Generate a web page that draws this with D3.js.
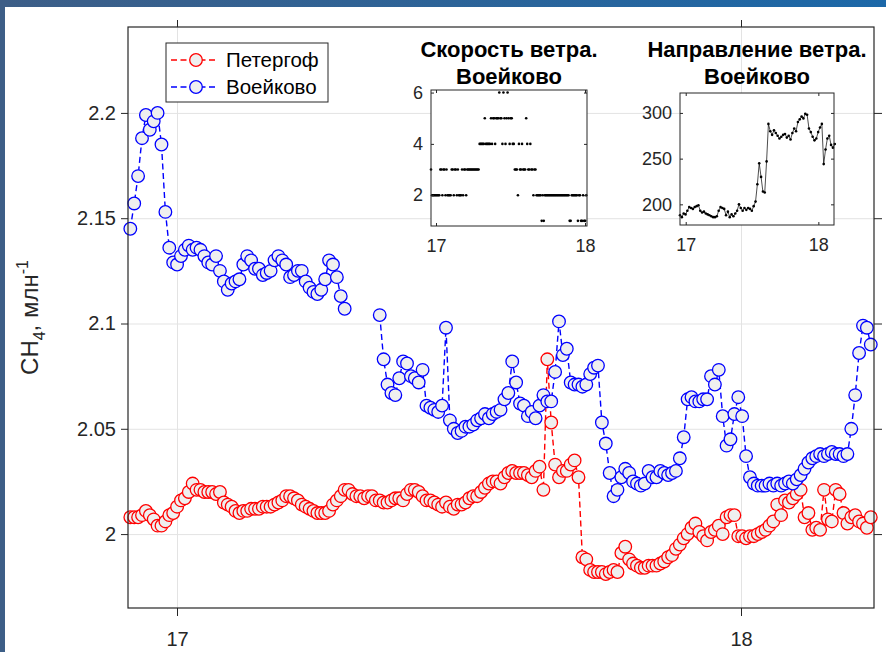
<!DOCTYPE html>
<html>
<head>
<meta charset="utf-8">
<script src="https://cdn.jsdelivr.net/npm/d3@7"></script>
<style>
    body { margin: 0; background: #fff; }
    svg { display: block; font-family: "Liberation Sans", Arial, Helvetica, sans-serif; }
</style>
</head>
<body>
<div id="chart"></div>
<script>

// ---- DATA ----

const seriesNames = ["Петергоф", "Воейково"];
const seriesColors = ["#ff0000", "#0000ff"];

// CH4, 10-minute values starting at 16.9172 (day of month)
const mainStart = 16.9172;
const mainStep = 0.00691;

const peterhof = [
    2.008,2.008,2.008,2.009,2.011,2.009,2.007,2.004,2.004,2.006,
    2.009,2.010,2.013,2.016,2.017,2.020,2.024,2.021,2.021,2.020,
    2.020,2.020,2.019,2.020,2.015,2.014,2.013,2.011,2.010,2.011,
    2.011,2.012,2.012,2.012,2.013,2.013,2.013,2.014,2.015,2.016,
    2.018,2.018,2.017,2.016,2.014,2.013,2.012,2.011,2.010,2.010,
    2.010,2.011,2.014,2.016,2.018,2.021,2.021,2.019,2.018,2.018,
    2.017,2.018,2.018,2.016,2.016,2.015,2.015,2.016,2.017,2.017,
    2.016,2.019,2.021,2.021,2.020,2.018,2.016,2.016,2.015,2.014,
    2.013,2.015,2.013,2.012,2.014,2.014,2.015,2.017,2.018,2.018,
    2.020,2.022,2.024,2.025,2.025,2.024,2.027,2.029,2.030,2.029,
    2.029,2.029,2.028,2.027,2.030,2.032,2.021,2.083,2.053,2.033,
    2.027,2.030,2.030,2.033,2.035,2.027,1.989,1.988,1.983,1.982,
    1.982,1.982,1.981,1.982,1.983,1.982,1.991,1.994,1.988,1.986,
    1.985,1.984,1.984,1.985,1.985,1.985,1.986,1.987,1.989,1.990,
    1.993,1.995,1.998,2.000,2.003,2.005,2.001,1.999,1.997,2.001,
    2.002,2.004,2.000,2.008,2.009,2.009,1.999,1.999,1.998,1.999,
    1.999,2.000,2.001,2.002,2.004,2.006,2.014,2.009,2.016,2.015,
    2.017,2.019,2.021,2.008,2.010,2.002,2.003,2.002,2.021,2.007,
    2.006,2.021,2.019,2.010,2.005,2.008,2.009,2.006,2.005,2.003,
    2.008
];

const voeikovo = [
    2.145,2.157,2.170,2.188,2.199,2.192,2.196,2.200,2.185,2.153,
    2.136,2.129,2.128,2.132,2.135,2.137,2.135,2.136,2.135,2.132,
    2.129,2.128,2.132,2.125,2.120,2.116,2.119,2.120,2.121,2.128,
    2.132,2.130,2.126,2.126,2.123,2.124,2.125,2.130,2.132,2.130,
    2.128,2.122,2.123,2.125,2.125,2.120,2.117,2.115,2.114,2.116,
    2.121,2.130,2.128,2.122,2.113,2.107,null,null,null,null,
    null,null,null,null,2.104,2.083,2.071,2.067,2.066,2.074,
    2.082,2.081,2.075,2.074,2.072,2.078,2.061,2.060,2.059,2.058,
    2.061,2.098,2.054,2.050,2.048,2.049,2.051,2.051,2.052,2.054,
    2.055,2.057,2.055,2.057,2.058,2.059,2.064,2.067,2.082,2.072,
    2.062,2.061,2.056,2.058,2.055,2.061,2.066,2.063,2.063,2.077,
    2.101,2.085,2.088,2.072,2.071,2.071,2.070,2.071,2.076,2.079,
    2.080,2.053,2.043,2.029,2.018,2.021,2.027,2.031,2.029,2.025,
    2.024,2.023,2.024,2.030,2.027,2.027,2.030,2.029,2.028,2.029,
    2.030,2.036,2.046,2.064,2.065,2.063,2.063,2.064,2.064,2.075,
    2.071,2.078,2.056,2.042,2.045,2.057,2.065,2.056,2.037,2.027,
    2.024,2.023,2.023,2.023,2.024,2.023,2.024,2.023,2.024,2.025,
    2.024,2.026,2.028,2.031,2.034,2.036,2.037,2.038,2.037,2.038,
    2.039,2.038,2.038,2.037,2.038,2.050,2.066,2.086,2.099,2.098,
    2.090
];

const yTicks = [2, 2.05, 2.1, 2.15, 2.2];
const xTicks = [17, 18];

// wind speed at Voeikovo, m/s, 10-minute values
const speedTitle = ["Скорость ветра.", "Воейково"];
const speedStart = 16.9664;
const speedStep = 1 / 144;
const windSpeed = [
    3,
    2,2,2,2,2,2,2,2,
    3,3,2,3,3,2,3,
    2,2,2,2,3,
    3,2,3,3,2,3,2,
    2,2,3,2,
    3,3,2,
    3,3,3,3,3,3,3,3,3,3,3,3,
    4,4,4,4,4,5,4,4,4,4,4,
    5,4,5,5,4,5,5,
    5,6,5,5,4,6,5,4,5,6,5,4,5,5,4,4,
    3,3,3,2,4,3,3,4,3,3,3,5,4,3,3,4,3,3,2,3,3,2,
    2,2,2,2,
    1,2,1,2,
    2,2,2,2,2,2,2,2,2,2,2,2,2,2,2,2,2,2,2,2,2,2,2,
    1,1,2,
    2,2,2,2,2,
    1,2,2,1,1,2,1,1,2
];
const speedTicks = [2, 4, 6];

// wind direction at Voeikovo, degrees, 20-minute values
const dirTitle = ["Направление ветра.", "Воейково"];
const dirStart = 16.957;
const dirStep = 1 / 72;
const windDir = [
    188,186,190,189,193,197,196,195,197,198,
    199,193,191,192,190,189,188,187,186,186,
    187,193,197,196,195,188,192,186,189,187,
    190,193,200,196,193,196,194,196,195,193,
    198,203,222,245,230,214,213,247,288,280,
    276,281,278,275,272,274,276,277,273,275,
    271,278,283,280,290,293,296,294,299,298,
    283,279,274,270,272,279,284,288,244,260,
    272,275,265,262,266
];
const dirTicks = [200, 250, 300];

// ---- CHART ----

class CH4Vis {

    constructor(parentElement) {
        this.parentElement = parentElement;
        this.initVis();
    }

    initVis() {
        let vis = this;

        vis.svgWidth = 886;
        vis.svgHeight = 652;

        // Main axes box
        vis.margin = {top: 27, right: 12, bottom: 44, left: 128};
        vis.width = vis.svgWidth - vis.margin.left - vis.margin.right;
        vis.height = vis.svgHeight - vis.margin.top - vis.margin.bottom;

        vis.svg = d3.select("#" + vis.parentElement)
            .append("svg")
            .attr("width", vis.svgWidth)
            .attr("height", vis.svgHeight);

        vis.drawFrame();
        vis.initMainVis();
        vis.initLegend();

        vis.initInset({
            box: {x: 431, y: 90, w: 156, h: 136},
            xDomain: [speedStart, 18.0134],
            yDomain: [0.8, 6.1],
            yTicks: speedTicks,
            title: speedTitle,
            values: windSpeed,
            start: speedStart,
            step: speedStep,
            withLine: false
        });

        vis.initInset({
            box: {x: 680, y: 93, w: 154, h: 132},
            xDomain: [dirStart, 18.118],
            yDomain: [177.4, 321.8],
            yTicks: dirTicks,
            title: dirTitle,
            values: windDir,
            start: dirStart,
            step: dirStep,
            withLine: true
        });
    }

    drawFrame() {
        let vis = this;

        // blue slide border on top and left
        let grad = vis.svg.append("defs").append("linearGradient")
            .attr("id", "topGrad")
            .attr("x1", "0%").attr("x2", "100%");
        grad.append("stop").attr("offset", "0%").attr("stop-color", "#3d5e87");
        grad.append("stop").attr("offset", "100%").attr("stop-color", "#1c68a8");

        vis.svg.append("rect")
            .attr("x", 0).attr("y", 0)
            .attr("width", vis.svgWidth).attr("height", 7)
            .attr("fill", "url(#topGrad)");

        vis.svg.append("rect")
            .attr("x", 0).attr("y", 0)
            .attr("width", 5).attr("height", vis.svgHeight)
            .attr("fill", "#3d5e87");
    }

    initMainVis() {
        let vis = this;

        vis.x = d3.scaleLinear()
            .domain([16.9131, 18.2358])
            .range([0, vis.width]);

        vis.y = d3.scaleLinear()
            .domain([1.9649, 2.2408])
            .range([vis.height, 0]);

        vis.main = vis.svg.append("g")
            .attr("transform", "translate(" + vis.margin.left + "," + vis.margin.top + ")");

        // grid
        vis.main.append("g")
            .attr("class", "grid")
            .call(d3.axisLeft(vis.y).tickValues(yTicks).tickSize(-vis.width).tickFormat(""))
            .call(g => g.select(".domain").remove())
            .selectAll("line").attr("stroke", "#e3e3e3").attr("stroke-width", 1);

        vis.main.append("g")
            .attr("class", "grid")
            .attr("transform", "translate(0," + vis.height + ")")
            .call(d3.axisBottom(vis.x).tickValues(xTicks).tickSize(-vis.height).tickFormat(""))
            .call(g => g.select(".domain").remove())
            .selectAll("line").attr("stroke", "#e3e3e3").attr("stroke-width", 1);

        // series
        let tOf = i => mainStart + i * mainStep;
        let allSeries = [peterhof, voeikovo];

        allSeries.forEach(function(values, s) {
            let points = values.map((v, i) => ({t: tOf(i), v: v}));

            let line = d3.line()
                .defined(d => d.v !== null)
                .x(d => vis.x(d.t))
                .y(d => vis.y(d.v));

            vis.main.append("path")
                .datum(points)
                .attr("d", line)
                .attr("fill", "none")
                .attr("stroke", seriesColors[s])
                .attr("stroke-width", 1.4)
                .attr("stroke-dasharray", "6,3.5");

            vis.main.append("g")
                .selectAll("circle")
                .data(points.filter(d => d.v !== null))
                .enter()
                .append("circle")
                .attr("cx", d => vis.x(d.t))
                .attr("cy", d => vis.y(d.v))
                .attr("r", 6.3)
                .attr("fill", "#efefef")
                .attr("stroke", seriesColors[s])
                .attr("stroke-width", 1.3);
        });

        // axes, ticks pointing out
        let styleAxis = function(g) {
            g.select(".domain").remove();
            g.selectAll("line").attr("stroke", "#262626");
            g.selectAll("text")
                .attr("fill", "#262626")
                .style("font-family", "'Liberation Sans', Arial, sans-serif")
                .style("font-size", "20px");
        };

        vis.main.append("g")
            .call(d3.axisLeft(vis.y).tickValues(yTicks).tickSize(7).tickPadding(5).tickFormat(d => d))
            .call(styleAxis);

        vis.main.append("g")
            .attr("transform", "translate(" + vis.width + ",0)")
            .call(d3.axisRight(vis.y).tickValues(yTicks).tickSize(8).tickFormat(""))
            .call(styleAxis);

        vis.main.append("g")
            .attr("transform", "translate(0," + vis.height + ")")
            .call(d3.axisBottom(vis.x).tickValues(xTicks).tickSize(8).tickPadding(16).tickFormat(d => d))
            .call(styleAxis);

        vis.main.append("g")
            .call(d3.axisTop(vis.x).tickValues(xTicks).tickSize(7).tickFormat(""))
            .call(styleAxis);

        // box
        vis.main.append("rect")
            .attr("width", vis.width)
            .attr("height", vis.height)
            .attr("fill", "none")
            .attr("stroke", "#262626")
            .attr("stroke-width", 1.2);

        // y label: CH4, млн-1
        let label = vis.svg.append("text")
            .attr("transform", "translate(38," + (vis.margin.top + vis.height / 2) + ") rotate(-90)")
            .attr("text-anchor", "middle")
            .attr("fill", "#262626")
            .style("font-size", "24px");
        label.append("tspan").text("CH");
        label.append("tspan").attr("dy", 7).style("font-size", "16px").text("4");
        label.append("tspan").attr("dy", -7).text(", млн");
        label.append("tspan").attr("dy", -10).style("font-size", "16px").text("-1");
    }

    initLegend() {
        let vis = this;

        let legend = vis.svg.append("g")
            .attr("transform", "translate(166,43)");

        legend.append("rect")
            .attr("width", 162)
            .attr("height", 59)
            .attr("fill", "#fff")
            .attr("stroke", "#262626")
            .attr("stroke-width", 1);

        let rows = legend.selectAll(".legendRow")
            .data(seriesNames)
            .enter()
            .append("g")
            .attr("class", "legendRow")
            .attr("transform", (d, i) => "translate(0," + (17 + i * 27) + ")");

        rows.append("line")
            .attr("x1", 5).attr("x2", 50)
            .attr("stroke", (d, i) => seriesColors[i])
            .attr("stroke-width", 1.4)
            .attr("stroke-dasharray", "6,3.5");

        rows.append("circle")
            .attr("cx", 30)
            .attr("r", 6.3)
            .attr("fill", "#efefef")
            .attr("stroke", (d, i) => seriesColors[i])
            .attr("stroke-width", 1.3);

        rows.append("text")
            .attr("x", 60)
            .attr("dy", "0.35em")
            .attr("fill", "#000")
            .style("font-size", "20.5px")
            .text(d => d);
    }

    initInset(cfg) {
        let vis = this;

        let b = cfg.box;
        let g = vis.svg.append("g")
            .attr("transform", "translate(" + b.x + "," + b.y + ")");

        let x = d3.scaleLinear().domain(cfg.xDomain).range([0, b.w]);
        let y = d3.scaleLinear().domain(cfg.yDomain).range([b.h, 0]);

        g.append("rect")
            .attr("width", b.w)
            .attr("height", b.h)
            .attr("fill", "#fff");

        let points = cfg.values.map((v, i) => ({t: cfg.start + i * cfg.step, v: v}));

        if (cfg.withLine) {
            g.append("path")
                .datum(points)
                .attr("d", d3.line().x(d => x(d.t)).y(d => y(d.v)))
                .attr("fill", "none")
                .attr("stroke", "#000")
                .attr("stroke-width", 0.7);
        }

        g.append("g")
            .selectAll("circle")
            .data(points)
            .enter()
            .append("circle")
            .attr("cx", d => x(d.t))
            .attr("cy", d => y(d.v))
            .attr("r", 1.3)
            .attr("fill", "#000");

        let styleAxis = function(a) {
            a.select(".domain").remove();
            a.selectAll("line").attr("stroke", "#262626");
            a.selectAll("text")
                .attr("fill", "#262626")
                .style("font-family", "'Liberation Sans', Arial, sans-serif")
                .style("font-size", "18px");
        };

        // ticks pointing in
        g.append("g")
            .call(d3.axisLeft(y).tickValues(cfg.yTicks).tickSizeInner(-3).tickSizeOuter(0).tickPadding(8).tickFormat(d => d))
            .call(styleAxis);
        g.append("g")
            .attr("transform", "translate(" + b.w + ",0)")
            .call(d3.axisRight(y).tickValues(cfg.yTicks).tickSizeInner(-3).tickSizeOuter(0).tickFormat(""))
            .call(styleAxis);
        g.append("g")
            .attr("transform", "translate(0," + b.h + ")")
            .call(d3.axisBottom(x).tickValues(xTicks).tickSizeInner(-3).tickSizeOuter(0).tickPadding(13).tickFormat(d => d))
            .call(styleAxis);
        g.append("g")
            .call(d3.axisTop(x).tickValues(xTicks).tickSizeInner(-3).tickSizeOuter(0).tickFormat(""))
            .call(styleAxis);

        g.append("rect")
            .attr("width", b.w)
            .attr("height", b.h)
            .attr("fill", "none")
            .attr("stroke", "#262626")
            .attr("stroke-width", 1);

        // two line bold title
        g.selectAll(".insetTitle")
            .data(cfg.title)
            .enter()
            .append("text")
            .attr("class", "insetTitle")
            .attr("x", b.w / 2)
            .attr("y", (d, i) => -b.y + 49 + i * 27)
            .attr("dy", "0.35em")
            .attr("text-anchor", "middle")
            .attr("fill", "#000")
            .style("font-size", "22px")
            .style("font-weight", "bold")
            .text(d => d);
    }
}

new CH4Vis("chart");

</script>
</body>
</html>
